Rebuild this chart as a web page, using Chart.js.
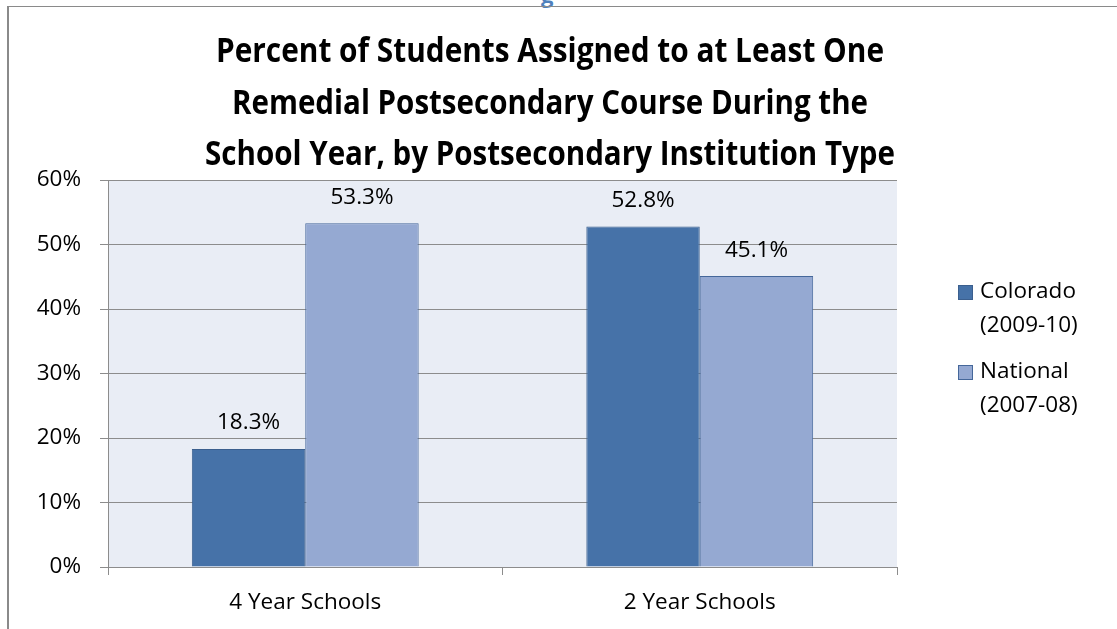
<!DOCTYPE html>
<html>
<head>
<meta charset="utf-8">
<script src="https://cdn.jsdelivr.net/npm/chart.js@4.4.1/dist/chart.umd.min.js"></script>
<style>
  html,body{margin:0;padding:0;background:#fff;overflow:hidden;}
  #wrap{position:relative;width:1117px;height:629px;}
  #frameL{position:absolute;left:7px;top:6px;width:2px;height:623px;background:#8a8a8a;}
  #frameT{position:absolute;left:7px;top:6px;width:1110px;height:1px;background:#8a8a8a;}
  #frag{position:absolute;left:541px;top:-21px;font:bold 22px "Open Sans", sans-serif;color:#4f81bd;}
  canvas{position:absolute;left:0;top:0;}
</style>
</head>
<body>
<div id="wrap">
  <div id="frag">g</div>
  <div id="frameT"></div>
  <div id="frameL"></div>
  <canvas id="c" width="1117" height="629"></canvas>
</div>
<script>
const categories = ["4 Year Schools", "2 Year Schools"];
const seriesNames = [["Colorado", "(2009-10)"], ["National", "(2007-08)"]];
const colorado = [18.3, 52.8];
const national = [53.3, 45.1];
const yTicks = [0, 10, 20, 30, 40, 50, 60];
const titleLines = [
  "Percent of Students Assigned to at Least One",
  "Remedial Postsecondary Course During the",
  "School Year, by Postsecondary Institution Type"
];

const FONT = '"Open Sans", sans-serif';
const FS = 22.5;

const bgPlugin = {
  id: 'bg',
  beforeDraw(chart) {
    const {ctx, chartArea: a} = chart;
    ctx.save();
    ctx.fillStyle = '#e9edf5';
    ctx.fillRect(a.left, a.top, a.right - a.left, a.bottom - a.top);
    ctx.restore();
  }
};

const labelPlugin = {
  id: 'vals',
  afterDatasetsDraw(chart) {
    const ctx = chart.ctx;
    ctx.save();
    ctx.font = FS + 'px ' + FONT;
    ctx.fillStyle = '#000';
    ctx.textAlign = 'center';
    ctx.textBaseline = 'middle';
    chart.data.datasets.forEach((ds, i) => {
      chart.getDatasetMeta(i).data.forEach((bar, j) => {
        ctx.fillText(ds.data[j].toFixed(1) + '%', bar.x, bar.y - 26);
      });
    });
    ctx.restore();
  }
};

const titlePlugin = {
  id: 'ttl',
  afterDraw(chart) {
    const ctx = chart.ctx;
    ctx.save();
    ctx.font = 'bold 34px ' + FONT;
    ctx.fillStyle = '#000';
    ctx.textAlign = 'center';
    ctx.textBaseline = 'alphabetic';
    const cx = 550;
    const widths = [668, 636, 690];
    const ys = [62, 114, 165];
    titleLines.forEach((t, i) => {
      const w = ctx.measureText(t).width;
      ctx.fillText(t, cx, ys[i], Math.min(w, widths[i]));
    });
    ctx.restore();
  }
};

const legendPlugin = {
  id: 'lg',
  afterDraw(chart) {
    const ctx = chart.ctx;
    ctx.save();
    ctx.font = FS + 'px ' + FONT;
    ctx.textAlign = 'left';
    ctx.textBaseline = 'middle';
    const tops = [285, 365];
    chart.data.datasets.forEach((ds, i) => {
      const y = tops[i];
      ctx.fillStyle = ds.backgroundColor;
      ctx.fillRect(958, y, 15, 15);
      ctx.strokeStyle = ds.borderColor;
      ctx.lineWidth = 1;
      ctx.strokeRect(958.5, y + 0.5, 14, 14);
      ctx.fillStyle = '#000';
      seriesNames[i].forEach((line, k) => {
        ctx.fillText(line, 980, y + 7 + k * 34);
      });
    });
    ctx.restore();
  }
};

new Chart(document.getElementById('c'), {
  type: 'bar',
  data: {
    labels: categories,
    datasets: [
      { label: seriesNames[0].join(' '), data: colorado, backgroundColor: '#4672a8', borderColor: '#3b5f8e', borderWidth: 1,
        categoryPercentage: 0.575, barPercentage: 1 },
      { label: seriesNames[1].join(' '), data: national, backgroundColor: '#95a9d2', borderColor: '#45679a', borderWidth: 1,
        categoryPercentage: 0.575, barPercentage: 1 }
    ]
  },
  options: {
    responsive: false,
    devicePixelRatio: 1,
    animation: false,
    layout: { padding: { left: 0, right: 220, top: 180, bottom: 0 } },
    plugins: { legend: { display: false }, title: { display: false }, tooltip: { enabled: false } },
    scales: {
      x: {
        afterFit(s) { s.height = 62; },
        grid: { drawOnChartArea: false, drawTicks: true, tickLength: 8, color: '#8c8c8c', offset: true },
        border: { color: '#8c8c8c', width: 1 },
        ticks: { color: '#000', font: { family: FONT, size: FS }, padding: 14 }
      },
      y: {
        min: 0, max: 60,
        afterFit(s) { s.width = 108; },
        afterBuildTicks(s) { s.ticks = yTicks.map(v => ({ value: v })); },
        grid: { color: '#8c8c8c', tickLength: 8, drawTicks: true },
        border: { color: '#8c8c8c', width: 1 },
        ticks: { color: '#000', font: { family: FONT, size: FS }, padding: 19, callback: v => v + '%' }
      }
    }
  },
  plugins: [bgPlugin, labelPlugin, titlePlugin, legendPlugin]
});
</script>
</body>
</html>
